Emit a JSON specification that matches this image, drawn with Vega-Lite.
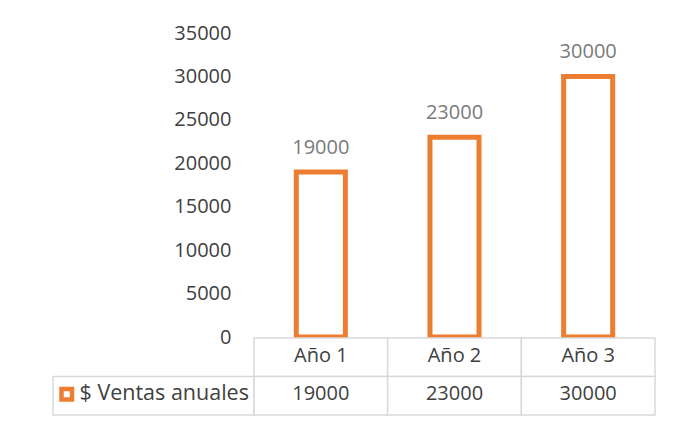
{
  "$schema": "https://vega.github.io/schema/vega-lite/v6.json",
  "padding": {"left": 52, "top": 23, "right": 5, "bottom": 5},
  "background": "white",
  "config": {"view": {"stroke": null}, "font": "Open Sans"},
  "datasets": {
    "sales": [
      {"year": "Año 1", "value": 19000, "series": "$ Ventas anuales"},
      {"year": "Año 2", "value": 23000, "series": "$ Ventas anuales"},
      {"year": "Año 3", "value": 30000, "series": "$ Ventas anuales"}
    ]
  },
  "columns": 2,
  "spacing": {"row": 1, "column": 0},
  "bounds": "flush",
  "concat": [
    {
      "width": 201,
      "height": 304,
      "data": {"values": []},
      "mark": {"type": "point", "opacity": 0},
      "encoding": {}
    },
    {
      "width": 401,
      "height": 304,
      "data": {"name": "sales"},
      "encoding": {
        "x": {"field": "year", "type": "nominal", "axis": null, "scale": {"paddingInner": 0.633, "paddingOuter": 0.3165}},
        "y": {
          "field": "value",
          "type": "quantitative",
          "scale": {"domain": [0, 35000]},
          "axis": {
            "values": [0, 5000, 10000, 15000, 20000, 25000, 30000, 35000],
            "format": "d",
            "grid": false,
            "domain": false,
            "ticks": false,
            "tickSize": 0,
            "labelPadding": 23,
            "labelFontSize": 20,
            "labelColor": "#404040",
            "title": null
          }
        }
      },
      "layer": [
        {
          "mark": {"type": "bar", "fill": "#ffffff", "strokeWidth": 5},
          "encoding": {
            "stroke": {
              "field": "series",
              "type": "nominal",
              "scale": {"range": ["#ED7D31"]},
              "legend": {
                "orient": "none",
                "legendX": 3,
                "legendY": 350.5,
                "title": null,
                "symbolType": "square",
                "symbolSize": 110,
                "symbolStrokeWidth": 4.5,
                "symbolFillColor": "#ffffff",
                "labelFontSize": 21.5,
                "labelColor": "#404040",
                "labelLimit": 400,
                "labelOffset": 2
              }
            }
          }
        },
        {
          "mark": {"type": "text", "dy": -18, "baseline": "alphabetic", "fontSize": 20, "color": "#7a7a7a"},
          "encoding": {"text": {"field": "value", "type": "quantitative", "format": "d"}}
        }
      ]
    },
    {
      "width": 201,
      "height": 77,
      "data": {"values": [{"row": "values"}]},
      "mark": {"type": "rect", "fill": "#ffffff", "stroke": "#d9d9d9", "strokeWidth": 1.5},
      "encoding": {
        "y": {"field": "row", "type": "nominal", "scale": {"domain": ["header", "values"], "paddingInner": 0, "paddingOuter": 0}, "axis": null}
      }
    },
    {
      "width": 401,
      "height": 77,
      "data": {"name": "sales"},
      "encoding": {
        "x": {"field": "year", "type": "nominal", "axis": null, "scale": {"paddingInner": 0, "paddingOuter": 0}}
      },
      "layer": [
        {
          "mark": {"type": "rect", "fill": "#ffffff", "stroke": "#d9d9d9", "strokeWidth": 1.5},
          "encoding": {"y": {"datum": "header", "type": "nominal", "scale": {"domain": ["header", "values"], "paddingInner": 0, "paddingOuter": 0}, "axis": null}}
        },
        {
          "mark": {"type": "rect", "fill": "#ffffff", "stroke": "#d9d9d9", "strokeWidth": 1.5},
          "encoding": {"y": {"datum": "values", "type": "nominal"}}
        },
        {
          "mark": {"type": "text", "fontSize": 20, "color": "#404040", "baseline": "middle", "dy": -1},
          "encoding": {"y": {"datum": "header", "type": "nominal"}, "text": {"field": "year", "type": "nominal"}}
        },
        {
          "mark": {"type": "text", "fontSize": 20, "color": "#404040", "baseline": "middle", "dy": -2},
          "encoding": {"y": {"datum": "values", "type": "nominal"}, "text": {"field": "value", "type": "quantitative", "format": "d"}}
        }
      ]
    }
  ]
}
